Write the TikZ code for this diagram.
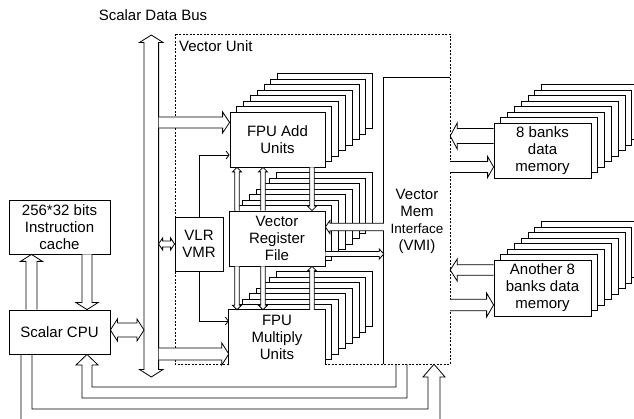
\documentclass[tikz,border=0pt]{standalone}
\usepackage{fontspec}
\setmainfont{Liberation Sans}
\usetikzlibrary{calc,arrows.meta}
\tikzset{
  box/.style={draw, fill=white, line width=0.8pt, align=center, inner sep=0pt, font=\fontsize{15}{17}\selectfont},
  plainbox/.style={fill=white, align=center, inner sep=0pt, font=\fontsize{15}{17}\selectfont},
  shbox/.style={draw, fill=white, line width=0.8pt},
  vudash/.style={draw, dash pattern=on 2pt off 1.5pt, line width=0.8pt},
  blk/.style={draw, fill=white, line width=0.8pt, line join=miter},
  bent/.style={draw, line width=0.8pt, line join=miter},
  ctl/.style={line width=0.8pt, -{Straight Barb[length=3pt,width=8pt]}},
  lbl/.style={font=\fontsize{15}{17}\selectfont, inner sep=0pt},
}
% single-headed block arrow: [opts]{from}{to}{half shaft}{half head}{head length}
\newcommand\barrow[6][]{%
  \filldraw[blk,#1] let \p1=#2, \p2=#3,
    \n1={atan2(\y2-\y1,\x2-\x1)}, \n2={veclen(\x2-\x1,\y2-\y1)} in
    [shift={(\p1)}, rotate=\n1]
    (0pt,{-#4*1pt}) -- ({(\n2-#6)*1pt},{-#4*1pt}) -- ({(\n2-#6)*1pt},{-#5*1pt}) -- ({\n2*1pt},0pt)
    -- ({(\n2-#6)*1pt},{#5*1pt}) -- ({(\n2-#6)*1pt},{#4*1pt}) -- (0pt,{#4*1pt});
}
% double-headed block arrow
\newcommand\dbarrow[6][]{%
  \filldraw[blk,#1] let \p1=#2, \p2=#3,
    \n1={atan2(\y2-\y1,\x2-\x1)}, \n2={veclen(\x2-\x1,\y2-\y1)} in
    [shift={(\p1)}, rotate=\n1]
    (0pt,0pt) -- ({#6*1pt},{-#5*1pt}) -- ({#6*1pt},{-#4*1pt}) -- ({(\n2-#6)*1pt},{-#4*1pt})
    -- ({(\n2-#6)*1pt},{-#5*1pt}) -- ({\n2*1pt},0pt) -- ({(\n2-#6)*1pt},{#5*1pt})
    -- ({(\n2-#6)*1pt},{#4*1pt}) -- ({#6*1pt},{#4*1pt}) -- ({#6*1pt},{#5*1pt}) -- cycle;
}
% stack of 7 shadow boxes behind a front box (x0,y0)-(x1,y1)
\newcommand\shadows[4]{%
  \foreach \k in {7,6,...,1}{%
    \draw[shbox] ({#1+6.8*\k},{#2-5.5*\k}) rectangle ({#3+6.8*\k},{#4-5.5*\k});
  }%
}
\begin{document}
\begin{tikzpicture}[x=1pt,y=-1pt]
\useasboundingbox (0,0) rectangle (634,419);
\clip (0,0) rectangle (634,419);

% Vector Unit frame
\draw[vudash] (175,34) rectangle (450,364);
\node[lbl, anchor=west] (vulabel) at (179,46) {Vector Unit};
\node[lbl] (sdb) at (153,15) {Scalar Data Bus};

% VMI (only left and top edges solid; the rest is the dashed frame)
\node[inner sep=0pt, minimum width=66pt, minimum height=286pt, align=center,
      font=\fontsize{15}{17}\selectfont] (vmi) at (417,221)
  {Vector\\Mem\\{\fontsize{13.5}{17}\selectfont Interface}\\(VMI)};
\draw[line width=0.8pt] (vmi.south west) -- (vmi.north west) -- (vmi.north east);

% FPU Add stack
\shadows{230}{112}{325}{167}
\node[box, minimum width=95pt, minimum height=55pt] (add) at (277.5,139.5) {FPU Add\\Units};
% Vector Register File stack
\shadows{229}{211}{325}{266}
\node[box, minimum width=96pt, minimum height=55pt] (vrf) at (277,238.5) {Vector\\Register\\File};
% FPU Multiply stack
\shadows{229}{310}{325}{365}
\node[plainbox, minimum width=96pt, minimum height=55pt] (mul) at (277,337.5) {FPU\\Multiply\\Units};
\draw[line width=0.8pt] (mul.south west) -- (mul.north west) -- (mul.north east) -- (mul.south east);

% memory banks
\shadows{494}{123}{591}{178}
\node[box, minimum width=97pt, minimum height=55pt] (bank1) at (542.5,150.5) {8 banks\\data\\memory};
\shadows{494}{260}{591}{316}
\node[box, minimum width=97pt, minimum height=56pt] (bank2) at (542.5,288) {Another 8\\banks data\\memory};

% VLR / VMR
\node[box, minimum width=48pt, minimum height=54pt] (vlr) at (199,244) {VLR\\VMR};

% scalar side
\node[box, minimum width=101pt, minimum height=54pt] (cache) at (59.5,227) {256*32 bits\\Instruction\\cache};
\node[box, minimum width=101pt, minimum height=44pt] (cpu) at (59.5,332) {Scalar CPU};

% scalar data bus
\coordinate (bustop) at (151.3,35);
\coordinate (busbot) at (151.3,377);
\coordinate (busL) at (144,0);
\coordinate (busR) at (158.6,0);
\dbarrow{(busbot)}{(bustop)}{7.3}{11.8}{7.5}

% bus connections
\dbarrow{(cpu.east|-0,330)}{(busL|-0,330)}{7}{11}{7}
\barrow{(busR|-0,122.5)}{(add.west|-0,122.5)}{5.5}{10.5}{7}
\barrow{(busR|-0,354)}{(mul.west|-0,354)}{6}{11}{7}
\dbarrow{(busR|-vlr.west)}{(vlr.west)}{3}{6}{4}

% cache <-> cpu
\barrow{(31.5,0|-cpu.north)}{(31.5,0|-cache.south)}{5.5}{11}{7}
\barrow{(87,0|-cache.south)}{(87,0|-cpu.north)}{5}{11}{7}

% VLR control lines
\draw[ctl] (vlr.north) |- (add.west|-0,155);
\draw[ctl] (vlr.south) |- (mul.west|-0,321);

% operand / result paths
\barrow{(237,0|-vrf.north)}{(237,0|-add.south)}{2.3}{4.5}{4.5}
\barrow{(263,0|-vrf.north)}{(263,0|-add.south)}{2.3}{4.5}{4.5}
\barrow{(312,0|-add.south)}{(312,0|-vrf.north)}{2.3}{4.5}{4.5}
\barrow{(237,0|-vrf.south)}{(237,0|-mul.north)}{2.3}{4.5}{4.5}
\barrow{(263,0|-vrf.south)}{(263,0|-mul.north)}{2.3}{4.5}{4.5}
\barrow{(312,0|-mul.north)}{(312,0|-vrf.south)}{2.3}{4.5}{4.5}

% VRF <-> VMI
\barrow{(vmi.west|-0,227)}{(vrf.east|-0,227)}{3.8}{6.5}{4.5}
\barrow{(vrf.east|-0,254)}{(vmi.west|-0,254)}{2.5}{5}{4.5}

% VMI <-> banks
\barrow{(bank1.west|-0,136)}{(vmi.east|-0,136)}{7.5}{13}{7}
\barrow{(vmi.east|-0,167)}{(bank1.west|-0,167)}{5.5}{10.5}{6}
\barrow{(bank2.west|-0,270)}{(vmi.east|-0,270)}{5.3}{11}{7}
\barrow{(vmi.east|-0,305)}{(bank2.west|-0,305)}{5.7}{12}{7}

% bent arrow VMI -> CPU
\draw[bent] (396,0|-vmi.south) -- (396,387) -- (92,387) -- (92,365) -- (98,365)
  -- (87,0|-cpu.south) -- (76,365) -- (82,365) -- (82,398) -- (407,398) -- (407,0|-vmi.south);
% bent arrow CPU -> VMI
\draw[bent] (21,0|-cpu.south) -- (21,422) -- (440,422) -- (440,377) -- (445,377)
  -- (434,0|-vmi.south) -- (423,377) -- (428,377) -- (428,409) -- (32,409) -- (32,0|-cpu.south);
\end{tikzpicture}
\end{document}
